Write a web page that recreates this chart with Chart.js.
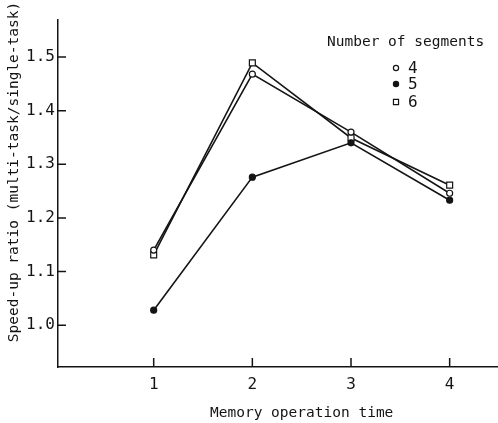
<!DOCTYPE html>
<html>
<head>
<meta charset="utf-8">
<script src="https://cdn.jsdelivr.net/npm/chart.js@4/dist/chart.umd.min.js"></script>
<style>
  html, body { margin: 0; padding: 0; background: #fff; }
  canvas { display: block; }
</style>
</head>
<body>
<canvas id="grafico" width="498" height="423"></canvas>
<script>
// valores
const memoryTimes = [1, 2, 3, 4];
const segmentLabels = ['4', '5', '6'];
const seg4 = [1.140, 1.468, 1.360, 1.246];
const seg5 = [1.028, 1.276, 1.340, 1.233];
const seg6 = [1.131, 1.489, 1.349, 1.261];
const xTicks = [1, 2, 3, 4];
const yTicks = [1.0, 1.1, 1.2, 1.3, 1.4, 1.5];
const yTickLabels = ['1.0', '1.1', '1.2', '1.3', '1.4', '1.5'];
const xTitle = 'Memory operation time';
const yTitle = 'Speed-up ratio (multi-task/single-task)';
const legendTitle = 'Number of segments';

const MONO = "'DejaVu Sans Mono', monospace";
const INK = '#141414';

Chart.defaults.font.family = MONO;
Chart.defaults.color = INK;

function pontos(valores) {
    return memoryTimes.map((x, i) => ({ x: x, y: valores[i] }));
}

function serie(label, valores, estilo, fundo, raio) {
    return {
        label: label,
        data: pontos(valores),
        borderColor: INK,
        borderWidth: 1.6,
        pointStyle: estilo,
        pointRadius: raio,
        pointBorderWidth: 1.2,
        pointBorderColor: INK,
        pointBackgroundColor: fundo,
        tension: 0
    };
}

// tracinhos para dentro dos eixos
const ticksInternos = {
    id: 'ticksInternos',
    afterDraw(chart) {
        const { ctx, chartArea, scales } = chart;
        ctx.save();
        ctx.strokeStyle = INK;
        ctx.lineWidth = 1.5;
        ctx.beginPath();
        yTicks.forEach(v => {
            const y = scales.y.getPixelForValue(v);
            ctx.moveTo(chartArea.left, y);
            ctx.lineTo(chartArea.left + 8, y);
        });
        xTicks.forEach(v => {
            const x = scales.x.getPixelForValue(v);
            ctx.moveTo(x, chartArea.bottom);
            ctx.lineTo(x, chartArea.bottom - 9);
        });
        ctx.stroke();
        ctx.restore();
    }
};

// titulos dos eixos
const titulos = {
    id: 'titulos',
    afterDraw(chart) {
        const { ctx, scales } = chart;
        ctx.save();
        ctx.fillStyle = INK;
        ctx.font = '14.5px ' + MONO;
        ctx.textAlign = 'center';
        ctx.textBaseline = 'alphabetic';
        ctx.fillText(xTitle, scales.x.getPixelForValue(2.5), 417);
        ctx.translate(18, 172);
        ctx.rotate(-Math.PI / 2);
        ctx.fillText(yTitle, 0, 0);
        ctx.restore();
    }
};

// legenda dentro da area do grafico
const legenda = {
    id: 'legenda',
    afterDraw(chart) {
        const { ctx } = chart;
        ctx.save();
        ctx.fillStyle = INK;
        ctx.font = '14.5px ' + MONO;
        ctx.textAlign = 'left';
        ctx.textBaseline = 'alphabetic';
        ctx.fillText(legendTitle, 327, 46);
        ctx.font = '16px ' + MONO;
        ctx.textBaseline = 'middle';
        const ys = [68, 84, 102];
        chart.data.datasets.forEach((ds, i) => {
            ctx.strokeStyle = INK;
            ctx.lineWidth = 1.2;
            ctx.fillStyle = ds.pointBackgroundColor;
            Chart.helpers.drawPoint(ctx, { pointStyle: ds.pointStyle, radius: ds.pointStyle === 'rect' ? 3.6 : 2.6, rotation: 0, borderWidth: 1.2 }, 396, ys[i]);
            ctx.fillStyle = INK;
            ctx.fillText(ds.label, 408, ys[i] + 1);
        });
        ctx.restore();
    }
};

const grafico = new Chart(document.getElementById('grafico'), {
    type: 'line',
    data: {
        datasets: [
            serie(segmentLabels[0], seg4, 'circle', '#fff', 3),
            serie(segmentLabels[1], seg5, 'circle', INK, 3),
            serie(segmentLabels[2], seg6, 'rect', '#fff', 4.2)
        ]
    },
    options: {
        responsive: false,
        animation: false,
        devicePixelRatio: 1,
        layout: { autoPadding: false, padding: { top: 20, right: 0, left: 0, bottom: 0 } },
        plugins: {
            legend: { display: false },
            tooltip: { enabled: false }
        },
        scales: {
            x: {
                type: 'linear',
                min: 0.03,
                max: 4.49,
                afterBuildTicks: s => { s.ticks = xTicks.map(v => ({ value: v })); },
                afterFit: s => { s.height = 56; s.paddingLeft = 0; s.paddingRight = 0; },
                grid: { display: false, drawTicks: false },
                border: { display: true, color: INK, width: 1.5 },
                ticks: { padding: 8, font: { size: 16 }, color: INK }
            },
            y: {
                type: 'linear',
                min: 0.922,
                max: 1.569,
                afterBuildTicks: s => { s.ticks = yTicks.map(v => ({ value: v })); },
                afterFit: s => { s.width = 58; },
                grid: { display: false, drawTicks: false },
                border: { display: true, color: INK, width: 1.5 },
                ticks: {
                    padding: 3,
                    font: { size: 16 },
                    color: INK,
                    callback: (v, i) => yTickLabels[i]
                }
            }
        }
    },
    plugins: [ticksInternos, titulos, legenda]
});
</script>
</body>
</html>
